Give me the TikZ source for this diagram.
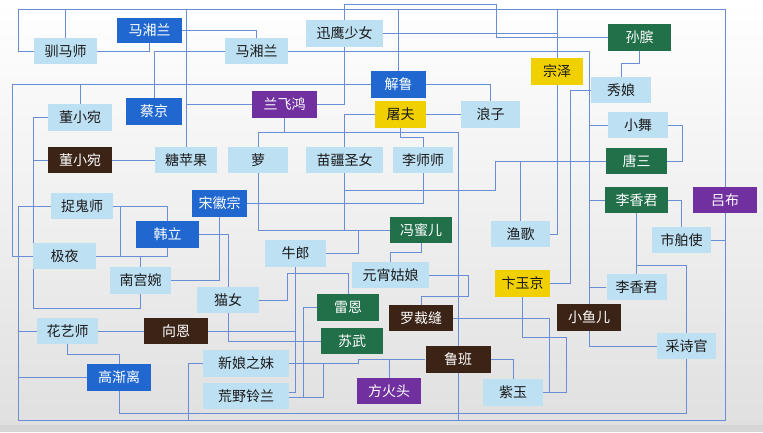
\documentclass[tikz,border=0pt]{standalone}
\usepackage{fontspec}
\setmainfont{Noto Sans CJK SC}
\definecolor{lbfill}{HTML}{BEE0F3}
\definecolor{bluefill}{HTML}{2068CF}
\definecolor{purplefill}{HTML}{7030A0}
\definecolor{greenfill}{HTML}{21704A}
\definecolor{brownfill}{HTML}{3B2316}
\definecolor{yellowfill}{HTML}{F0D000}
\definecolor{linecol}{HTML}{6A8ED6}
\definecolor{bgbottom}{HTML}{E0E0E0}
\definecolor{bgband}{HTML}{D6D6D6}
\pgfdeclarelayer{bgl}
\pgfdeclarelayer{lines}
\pgfsetlayers{bgl,lines,main}
\tikzset{
  bx/.style={rectangle, inner sep=0pt, font=\fontsize{14}{16}\selectfont, text=black!90},
  lb/.style={bx, fill=lbfill},
  bl/.style={bx, fill=bluefill, text=white},
  pu/.style={bx, fill=purplefill, text=white},
  gr/.style={bx, fill=greenfill, text=white},
  br/.style={bx, fill=brownfill, text=white},
  ye/.style={bx, fill=yellowfill},
  wire/.style={draw=linecol, line width=1pt},
}
\newcommand\mknode[7]{\node[#1, minimum width=#5pt, minimum height=#6pt] (#2) at (#3,#4) {#7};}
\begin{document}
\begin{tikzpicture}[x=1pt,y=-1pt]
\useasboundingbox (0,0) rectangle (763,432);
\begin{pgfonlayer}{bgl}
  \shade[top color=white, middle color=white!96!black, bottom color=bgbottom] (0,0) rectangle (763,425);
  \fill[bgband] (0,425) rectangle (763,432);
\end{pgfonlayer}

% nodes
\mknode{lb}{xunma}{65.5}{51}{63}{26}{驯马师}
\mknode{bl}{mxla}{149.5}{30.5}{65}{25}{马湘兰}
\mknode{lb}{mxlb}{256.5}{51}{63}{26}{马湘兰}
\mknode{lb}{xysn}{344.5}{33.5}{77}{27}{迅鹰少女}
\mknode{bl}{jielu}{398.5}{84.5}{55}{27}{解鲁}
\mknode{gr}{sunbin}{639.5}{37.5}{63}{27}{孙膑}
\mknode{ye}{zongze}{557}{71.5}{52}{27}{宗泽}
\mknode{lb}{xiuniang}{621}{90}{60}{26}{秀娘}
\mknode{lb}{dxwa}{80}{117.5}{64}{27}{董小宛}
\mknode{bl}{caijing}{154}{111.5}{56}{27}{蔡京}
\mknode{pu}{lfh}{284.5}{104.5}{65}{27}{兰飞鸿}
\mknode{ye}{tufu}{400.5}{114.5}{51}{27}{屠夫}
\mknode{lb}{langzi}{490.5}{114.5}{59}{27}{浪子}
\mknode{lb}{xiaowu}{638}{125}{60}{26}{小舞}
\mknode{br}{dxwb}{80}{160}{64}{26}{董小宛}
\mknode{lb}{tpg}{186}{160}{62}{26}{糖苹果}
\mknode{lb}{luo}{258}{160}{60}{26}{萝}
\mknode{lb}{mjsn}{344.5}{160}{77}{26}{苗疆圣女}
\mknode{lb}{lss}{423}{160}{60}{26}{李师师}
\mknode{gr}{tangsan}{636.5}{161}{61}{26}{唐三}
\mknode{lb}{zgs}{82}{206}{62}{26}{捉鬼师}
\mknode{bl}{shz}{219.5}{203.5}{55}{27}{宋徽宗}
\mknode{gr}{lxja}{636.5}{200}{63}{26}{李香君}
\mknode{pu}{lvbu}{725}{200}{64}{26}{吕布}
\mknode{bl}{hanli}{167.5}{234.5}{63}{27}{韩立}
\mknode{gr}{fme}{421}{230}{62}{26}{冯蜜儿}
\mknode{lb}{yuge}{520.5}{234}{59}{26}{渔歌}
\mknode{lb}{sbs}{681.5}{240}{59}{26}{市舶使}
\mknode{lb}{jiye}{64.5}{256}{63}{26}{极夜}
\mknode{lb}{niulang}{295.5}{253.5}{61}{27}{牛郎}
\mknode{lb}{ngw}{140.5}{280.5}{61}{27}{南宫婉}
\mknode{lb}{yxgn}{390.5}{275}{77}{26}{元宵姑娘}
\mknode{ye}{byj}{522.5}{283.5}{55}{27}{卞玉京}
\mknode{lb}{lxjb}{636.5}{287}{60}{26}{李香君}
\mknode{lb}{maonv}{228}{300}{62}{26}{猫女}
\mknode{gr}{leien}{348}{307.5}{62}{27}{雷恩}
\mknode{br}{lcf}{421}{318}{64}{26}{罗裁缝}
\mknode{br}{xye}{589}{317.5}{64}{27}{小鱼儿}
\mknode{lb}{hys}{67.5}{331}{61}{26}{花艺师}
\mknode{br}{xiangen}{176}{331}{64}{26}{向恩}
\mknode{gr}{suwu}{352}{341}{62}{26}{苏武}
\mknode{lb}{csg}{686.5}{346}{59}{26}{采诗官}
\mknode{br}{luban}{458}{359.5}{65}{27}{鲁班}
\mknode{lb}{xnzm}{246}{363.5}{86}{27}{新娘之妹}
\mknode{bl}{gjl}{119}{377.5}{64}{27}{高渐离}
\mknode{pu}{fht}{389}{391}{64}{26}{方火头}
\mknode{lb}{hyll}{246}{396}{86}{26}{荒野铃兰}
\mknode{lb}{ziyu}{513}{392.5}{60}{27}{紫玉}

\begin{pgfonlayer}{lines}
\begin{scope}[wire]
% top area
\draw (xunma.west) -| (18,9) -| (lvbu.north);
\draw (xunma.north) -- (65.5,9) -- (557,9) -- (zongze.north);
\draw (xunma.east) -| (mxla.south);
\draw (mxla.east) -| (mxlb.north);
\draw (mxlb.west) -| (caijing.north);
\draw (jielu.west) -- (12,84.5) |- (jiye.west);
\draw (dxwa.north) -- (80,84.5);
\draw (dxwa.west) -- (33,117.5) -- (33,308) -| (ngw.south);
\draw (dxwb.west) -- (33,160);
\draw (dxwb.east) -- (tpg.west);
\draw (tpg.north) -- (186,9);
\draw (lfh.west) -- (186,104.5);
\draw (xysn.south) |- (lfh.east);
\draw (lfh.south) -- (284.5,132) -- (458,132) -- (luban.north);
\draw (luban.south) -- (458,420);
\draw (luo.north) -- (258,132) -- (284.5,132);
\draw (luo.south) |- (fme.west);
\draw (tufu.west) -| (mjsn.north);
\draw (mjsn.south) -- (344.5,230);
\draw (mjsn.south) -- (344.5,190) -- (495,190) |- (tangsan.west);
\draw (lss.south) |- (shz.east);
\draw (tufu.south) -- (400.5,137) -| (lss.north);
\draw (tufu.east) -- (langzi.west);
\draw (jielu.east) -| (langzi.north);
\draw (jielu.north) -- (398.5,9);
\draw (xysn.east) -- (557,33.5);
\draw (xysn.north) -- (344.5,4) -- (496,4) |- (sunbin.west);
\draw (zongze.south) |- (yuge.east);
\draw (mxlb.east) -- (589,51) -- (xye.north);
\draw (xiaowu.west) -- (589,125);
\draw (lxja.west) -- (589,200);
\draw (lxjb.west) -- (589,287);
\draw (sunbin.south) -- (639.5,63) -| (xiuniang.north);
\draw (xiuniang.west) -- (570,90) |- (byj.east);
\draw (xiaowu.east) -- (682,125) |- (tangsan.east);
\draw (yuge.north) -- (520.5,161);
\draw (lxja.east) -| (sbs.north);
\draw (lxja.south) -- (lxjb.north);
\draw (lxjb.north) -- (636.5,265) -| (csg.north);
\draw (sbs.east) -- (725,240);
% bottom rails
\draw (lvbu.south) -- (725,420) -- (18,420) |- (hys.west);
\draw (gjl.west) -- (18,377.5);
\draw (zgs.west) -| (18,331);
\draw (xye.south) |- (csg.west);
\draw (csg.south) -- (686.5,413) -| (gjl.south);
% left-middle
\draw (zgs.east) -| (hanli.north);
\draw (jiye.east) -| (hanli.south);
\draw (ngw.north) -- (140.5,256);
\draw (120,206) -- (120,256);
\draw (hanli.east) -| (maonv.north);
\draw (maonv.south) |- (suwu.west);
\draw (shz.south) |- (ngw.east);
\draw (maonv.east) -- (287,300) -- (287,273) -| (leien.north);
\draw (niulang.south) |- ([yshift=4pt]hyll.east);
\draw (xiangen.east) -- (295.5,331);
\draw (leien.west) -- (303,307.5) -- (303,397);
\draw ([yshift=-1pt]hyll.east) -| (323,363.5);
\draw (xnzm.east) -- (358,363.5) -- (358,359.5) -- (luban.west);
\draw (fht.north) -- (389,359.5);
\draw (xnzm.west) -- (188,363.5) -- (188,420);
\draw (yxgn.east) -- (468,275) -- (468,296) -| (lcf.north);
\draw (fme.south) -- (421,252) -| (yxgn.north);
\draw (niulang.east) -| (358,230);
\draw (lcf.east) -- (549,318) |- (ziyu.east);
\draw (byj.south) -- (522.5,337) -- (566,337) |- (ziyu.east);
\draw (luban.east) -| (ziyu.north);
\draw (xiangen.west) -- (hys.east);
\draw (hys.south) -- (67.5,354) -| (gjl.north);
\end{scope}
\end{pgfonlayer}
\end{tikzpicture}
\end{document}
